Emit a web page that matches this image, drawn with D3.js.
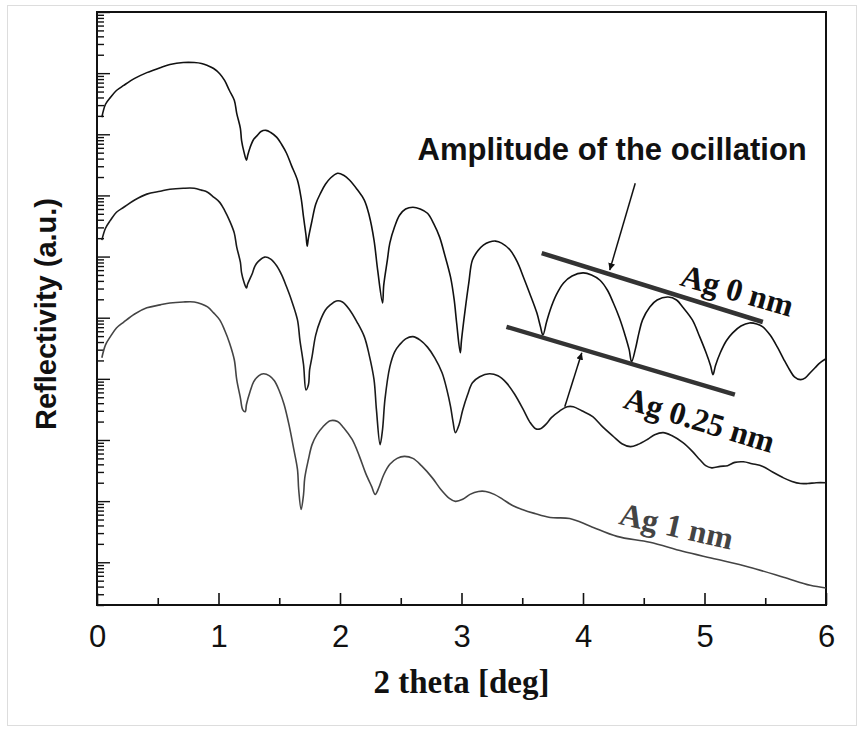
<!DOCTYPE html>
<html>
<head>
<meta charset="utf-8">
<script src="https://cdn.jsdelivr.net/npm/d3@7"></script>
<style>
  body { margin: 0; background: #fff; }
</style>
</head>
<body>
<svg id="chart" width="863" height="738"></svg>
<script>
// Ag 0 nm (top curve)
const ag0X = [0.04,0.07,0.11,0.16,0.22,0.31,0.41,0.52,0.60,0.71,0.80,0.86,0.91,0.96,1.01,1.05,1.09,1.13,1.15,1.18,1.19,1.21,1.23,1.24,1.26,1.29,1.32,1.35,1.39,1.43,1.48,1.52,1.56,1.60,1.65,1.68,1.70,1.72,1.73,1.74,1.77,1.80,1.84,1.88,1.92,1.98,2.03,2.08,2.14,2.20,2.24,2.28,2.31,2.35,2.36,2.39,2.41,2.45,2.49,2.54,2.60,2.66,2.72,2.77,2.82,2.86,2.91,2.94,2.96,2.99,3.00,3.03,3.06,3.09,3.14,3.18,3.23,3.28,3.33,3.40,3.46,3.51,3.56,3.62,3.65,3.67,3.70,3.73,3.78,3.84,3.91,4.00,4.07,4.14,4.20,4.25,4.30,4.35,4.38,4.40,4.43,4.46,4.49,4.55,4.61,4.70,4.77,4.82,4.90,4.96,5.01,5.05,5.07,5.09,5.13,5.18,5.23,5.30,5.37,5.43,5.48,5.54,5.60,5.65,5.70,5.74,5.79,5.83,5.87,5.91,5.95,6.00];
const ag0R = [1.9e7,3.1e7,4.0e7,5.2e7,6.3e7,8.2e7,1.02e8,1.23e8,1.38e8,1.49e8,1.49e8,1.44e8,1.33e8,1.19e8,9.8e7,7.6e7,5.2e7,3.6e7,2.2e7,1.25e7,7.9e6,5.1e6,3.75e6,4.5e6,6.1e6,8.3e6,9.6e6,1.11e7,1.16e7,1.07e7,8.9e6,6.8e6,4.9e6,3.1e6,1.77e6,9.0e5,4.4e5,2.24e5,1.48e5,2.0e5,3.9e5,7.2e5,1.09e6,1.52e6,1.91e6,2.3e6,2.14e6,1.77e6,1.26e6,8.4e5,4.75e5,1.86e5,6.0e4,1.74e4,3.4e4,8.8e4,1.66e5,3.1e5,4.75e5,6.0e5,6.4e5,6.0e5,5.1e5,3.5e5,2.08e5,1.10e5,4.6e4,1.95e4,8.2e3,2.67e3,4.3e3,1.34e4,3.7e4,8.8e4,1.28e5,1.54e5,1.73e5,1.79e5,1.66e5,1.28e5,8.1e4,4.6e4,2.54e4,1.20e4,7.1e3,5.2e3,8.5e3,1.34e4,2.36e4,3.7e4,4.8e4,5.4e4,5.0e4,4.1e4,2.84e4,1.74e4,9.9e3,4.9e3,3.0e3,1.9e3,3.0e3,5.6e3,9.2e3,1.5e4,1.95e4,2.18e4,1.95e4,1.5e4,9.2e3,4.9e3,2.77e3,1.64e3,1.17e3,1.64e3,2.67e3,4.2e3,5.6e3,7.3e3,8.2e3,7.9e3,7.1e3,5.2e3,3.3e3,2.13e3,1.41e3,1.08e3,9.7e2,1.04e3,1.26e3,1.52e3,1.83e3,2.13e3];

// Ag 0.25 nm (middle curve)
const ag025X = [0.04,0.07,0.11,0.16,0.22,0.31,0.41,0.52,0.60,0.71,0.80,0.86,0.91,0.96,1.01,1.05,1.09,1.13,1.15,1.18,1.19,1.21,1.23,1.24,1.28,1.30,1.33,1.38,1.43,1.48,1.52,1.56,1.60,1.65,1.67,1.70,1.72,1.74,1.75,1.77,1.80,1.84,1.88,1.92,1.97,2.02,2.08,2.14,2.20,2.24,2.28,2.30,2.33,2.35,2.37,2.41,2.45,2.49,2.54,2.60,2.66,2.72,2.78,2.84,2.88,2.91,2.93,2.95,2.98,3.01,3.05,3.09,3.15,3.23,3.30,3.37,3.44,3.51,3.56,3.61,3.65,3.70,3.74,3.81,3.87,3.92,3.99,4.08,4.16,4.25,4.32,4.39,4.45,4.53,4.59,4.66,4.73,4.82,4.90,4.96,5.01,5.06,5.13,5.19,5.25,5.32,5.39,5.48,5.56,5.65,5.72,5.79,5.85,5.92,6.00];
const ag025R = [1.86e5,2.9e5,3.9e5,5.3e5,6.4e5,8.4e5,1.05e6,1.17e6,1.26e6,1.31e6,1.31e6,1.22e6,1.13e6,9.4e5,7.7e5,5.7e5,3.9e5,2.42e5,1.43e5,8.1e4,5.4e4,3.8e4,3.06e4,3.56e4,5.4e4,7.0e4,8.4e4,9.8e4,9.1e4,7.0e4,5.0e4,3.2e4,1.95e4,9.2e3,4.3e3,1.7e3,6.6e2,8.0e2,1.41e3,2.3e3,5.2e3,9.2e3,1.34e4,1.62e4,1.88e4,1.81e4,1.34e4,8.5e3,4.9e3,2.47e3,9.7e2,3.1e2,84,1.48e2,4.6e2,1.57e3,2.77e3,3.6e3,4.5e3,4.9e3,4.3e3,3.3e3,2.21e3,1.26e3,6.6e2,3.5e2,2.0e2,1.32e2,1.78e2,3.1e2,5.5e2,8.6e2,1.08e3,1.21e3,1.12e3,8.6e2,5.5e2,3.1e2,2.0e2,1.53e2,1.53e2,1.85e2,2.32e2,3.0e2,3.5e2,3.5e2,3.0e2,2.41e2,1.65e2,1.14e2,87,78,84,1.02e2,1.22e2,1.32e2,1.18e2,91,65,48,38,35,37,38,43,44,41,37,30,24,21,19.4,19.4,20,20];

// Ag 1 nm (bottom curve)
const ag1X = [0.04,0.07,0.11,0.16,0.22,0.31,0.41,0.52,0.60,0.71,0.80,0.86,0.91,0.96,1.01,1.05,1.09,1.13,1.15,1.18,1.20,1.22,1.23,1.26,1.29,1.33,1.37,1.42,1.46,1.50,1.54,1.58,1.62,1.65,1.66,1.68,1.70,1.71,1.74,1.77,1.81,1.86,1.92,1.98,2.03,2.10,2.16,2.21,2.26,2.29,2.32,2.36,2.41,2.47,2.53,2.60,2.67,2.76,2.83,2.90,2.95,3.01,3.07,3.14,3.20,3.27,3.34,3.42,3.50,3.60,3.73,3.89,4.06,4.28,4.55,4.82,5.10,5.37,5.65,5.87,6.00];
const ag1R = [2.21e3,3.6e3,4.9e3,6.8e3,8.5e3,1.15e4,1.45e4,1.62e4,1.74e4,1.81e4,1.81e4,1.68e4,1.5e4,1.2e4,9.2e3,6.3e3,3.9e3,2.05e3,9.7e2,4.9e2,3.1e2,2.9e2,3.8e2,6.2e2,9.0e2,1.12e3,1.21e3,1.12e3,9.3e2,6.4e2,3.8e2,1.78e2,70,33,15.5,7.3,12.9,24,48,84,1.22e2,1.65e2,2.07e2,2.0e2,1.59e2,1.02e2,54,29,17.4,12.9,16.7,27,40,50,54,50,38,24,15.5,11.1,9.9,10.7,12.9,14.4,14.4,12.9,10.7,8.5,7.3,6.3,5.4,5.2,3.9,2.65,2.12,1.51,1.12,0.83,0.57,0.42,0.38];

const xMajor = [0, 1, 2, 3, 4, 5, 6];
const xMinor = [0.5, 1.5, 2.5, 3.5, 4.5, 5.5];

// amplitude guide lines and arrows: [x1, r1, x2, r2]
const guides = [[3.66, 1.14e5, 5.48, 8.5e3], [3.37, 7.1e3, 5.25, 5.5e2]];
const arrows = [[4.43, 1.58e6, 4.22, 6.0e4], [3.85, 3.5e2, 3.99, 2.67e3]];
const labels = [
  { text: 'Ag 0 nm', x: 5.27, r: 2.8e4, angle: 16, color: '#111' },
  { text: 'Ag 0.25 nm', x: 4.96, r: 2.15e2, angle: 17, color: '#111' },
  { text: 'Ag 1 nm', x: 4.77, r: 3.9, angle: 13, color: '#444' }
];

const sans = '"Liberation Sans", Arial, sans-serif';
const serif = '"Liberation Serif", "Times New Roman", serif';

const margin = { top: 12, right: 37, bottom: 133, left: 97 };
const width = 863, height = 738;

const svg = d3.select('#chart');

// outer light frame
svg.append('rect')
  .attr('x', 7.5).attr('y', 5.5)
  .attr('width', 849).attr('height', 720)
  .attr('fill', 'none').attr('stroke', '#ddd');

const x = d3.scaleLinear().domain([0, 6]).range([margin.left, width - margin.right]);
const y = d3.scaleLog().domain([0.2, 1e9]).range([height - margin.bottom, margin.top]);

// axes (ticks point inward)
const yTicks = y.ticks();
const yMajor = yTicks.filter(v => Math.abs(Math.log10(v) - Math.round(Math.log10(v))) < 1e-9);
const yMinor = yTicks.filter(v => !yMajor.includes(v));

const gx = svg.append('g').attr('transform', `translate(0,${height - margin.bottom})`);
gx.call(d3.axisBottom(x).tickValues(xMajor).tickSize(-12).tickPadding(20).tickFormat(d3.format('d')));
gx.append('g').call(d3.axisBottom(x).tickValues(xMinor).tickSize(-7).tickFormat(''));
gx.selectAll('.domain').remove();
gx.selectAll('line').attr('stroke', '#111').attr('stroke-width', 1.6);
gx.selectAll('text')
  .attr('fill', '#111')
  .style('font-size', '31px')
  .style('font-family', sans);

const gy = svg.append('g').attr('transform', `translate(${margin.left},0)`);
gy.call(d3.axisLeft(y).tickValues(yMajor).tickSize(-13).tickFormat(''));
gy.append('g').call(d3.axisLeft(y).tickValues(yMinor).tickSize(-7).tickFormat(''));
gy.selectAll('.domain').remove();
gy.selectAll('line').attr('stroke', '#111').attr('stroke-width', 1.4);

// frame
svg.append('rect')
  .attr('x', margin.left).attr('y', margin.top)
  .attr('width', width - margin.left - margin.right)
  .attr('height', height - margin.top - margin.bottom)
  .attr('fill', 'none').attr('stroke', '#111').attr('stroke-width', 2);

// curves
const line = d3.line()
  .x(d => x(d[0]))
  .y(d => y(d[1]))
  .curve(d3.curveCatmullRom.alpha(0.5));

const series = [
  { xs: ag0X, rs: ag0R, color: '#111' },
  { xs: ag025X, rs: ag025R, color: '#1a1a1a' },
  { xs: ag1X, rs: ag1R, color: '#444' }
];

series.forEach(s => {
  svg.append('path')
    .datum(d3.zip(s.xs, s.rs))
    .attr('d', line)
    .attr('fill', 'none')
    .attr('stroke', s.color)
    .attr('stroke-width', 1.6);
});

// guide lines
svg.selectAll('.guide')
  .data(guides)
  .enter()
  .append('line')
  .attr('x1', d => x(d[0])).attr('y1', d => y(d[1]))
  .attr('x2', d => x(d[2])).attr('y2', d => y(d[3]))
  .attr('stroke', '#333').attr('stroke-width', 4.5);

svg.append('defs').append('marker')
  .attr('id', 'head')
  .attr('viewBox', '0 0 10 10')
  .attr('refX', 10).attr('refY', 5)
  .attr('markerWidth', 7).attr('markerHeight', 7)
  .attr('markerUnits', 'userSpaceOnUse')
  .attr('orient', 'auto')
  .append('path').attr('d', 'M0,0L10,5L0,10z').attr('fill', '#111');

svg.selectAll('.arrow')
  .data(arrows)
  .enter()
  .append('line')
  .attr('x1', d => x(d[0])).attr('y1', d => y(d[1]))
  .attr('x2', d => x(d[2])).attr('y2', d => y(d[3]))
  .attr('stroke', '#111').attr('stroke-width', 1.5)
  .attr('marker-end', 'url(#head)');

// annotation text
svg.append('text')
  .attr('x', x(4.24)).attr('y', y(3.8e6))
  .attr('text-anchor', 'middle')
  .attr('fill', '#111')
  .style('font-family', sans)
  .style('font-size', '31px')
  .style('font-weight', 'bold')
  .text('Amplitude of the ocillation');

svg.selectAll('.lbl')
  .data(labels)
  .enter()
  .append('text')
  .attr('transform', d => `translate(${x(d.x)},${y(d.r)}) rotate(${d.angle})`)
  .attr('text-anchor', 'middle')
  .attr('dominant-baseline', 'central')
  .attr('fill', d => d.color)
  .style('font-family', serif)
  .style('font-weight', 'bold')
  .style('font-size', '32px')
  .text(d => d.text);

// axis titles
svg.append('text')
  .attr('x', x(3)).attr('y', 693)
  .attr('text-anchor', 'middle')
  .attr('fill', '#111')
  .style('font-family', serif)
  .style('font-weight', 'bold')
  .style('font-size', '33px')
  .text('2 theta [deg]');

svg.append('text')
  .attr('transform', 'translate(56,314) rotate(-90)')
  .attr('text-anchor', 'middle')
  .attr('fill', '#111')
  .style('font-family', sans)
  .style('font-weight', 'bold')
  .style('font-size', '29px')
  .text('Reflectivity (a.u.)');
</script>
</body>
</html>
